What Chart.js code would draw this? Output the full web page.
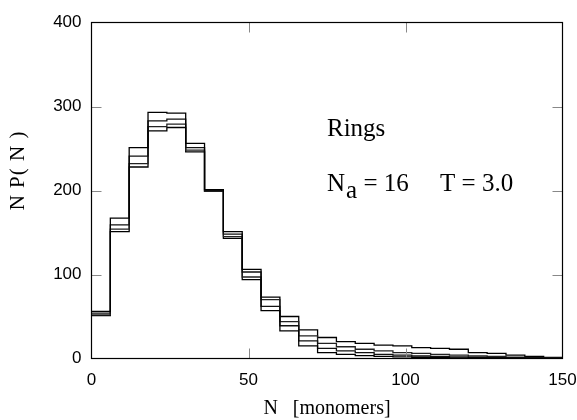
<!DOCTYPE html>
<html><head><meta charset="utf-8">
<script src="https://cdn.jsdelivr.net/npm/chart.js@4.4.1/dist/chart.umd.min.js"></script>
<style>html,body{margin:0;padding:0;background:#fff}</style>
</head><body>
<canvas id="c" width="577" height="420"></canvas>
<script>
// ---- data ----
const binStarts = [0,6,12,18,24,30,36,42,48,54,60,66,72,78,84,90,96,102,108,114,120,126,132,138,144];
const binWidth = 6;
const seriesA = [56,167,251,293,292,256,201,151,106,57,33,15,7,5,3.5,2.5,2,1.2,1,0.7,0.5,0.4,0.3,0.2,0.1];
const seriesB = [54,159,241,283,285,251,200,148,103,62,39,21,12,9,7,5,4,3,2.5,2,1.2,1,0.7,0.5,0.3];
const seriesC = [52,154,232,276,279,248,199,145,97,70,44,27,18,14,11,9,7,6,5,4,3,2.5,1.5,1,0.6];
const seriesD = [51,151,228,271,275,246,199,143,94,73,50,34,25,20,18,16,15,13,12,11,7,6,4,2.5,1.2];
const xTicks = [0,50,100,150];
const yTicks = [0,100,200,300,400];

function toPoints(vals){
  const pts = binStarts.map((x,i)=>({x:x, y:vals[i]}));
  pts.push({x: binStarts[binStarts.length-1] + binWidth, y: vals[vals.length-1]});
  return pts;
}
const colors = ['#000','#111','#222','#000'];
const datasets = [seriesA,seriesB,seriesC,seriesD].map((s,i)=>({
  data: toPoints(s), borderColor: colors[i], borderWidth: 1.3,
  pointRadius: 0, fill: false, stepped: true, tension: 0
}));

const SERIF = '"Liberation Serif", "Times New Roman", serif';
const SANS = '"Liberation Sans", Arial, sans-serif';

const deco = {
  id: 'deco',
  afterDatasetsDraw(chart){
    const {ctx, chartArea:a, scales:{x, y}} = chart;
    ctx.save();
    // inward ticks
    ctx.strokeStyle = '#888'; ctx.lineWidth = 1;
    const L = 10;
    xTicks.forEach(v=>{
      if (v === x.min || v === x.max) return;
      const px = Math.round(x.getPixelForValue(v)) + 0.5;
      ctx.beginPath(); ctx.moveTo(px, a.bottom); ctx.lineTo(px, a.bottom - L); ctx.stroke();
      ctx.beginPath(); ctx.moveTo(px, a.top); ctx.lineTo(px, a.top + L); ctx.stroke();
    });
    yTicks.forEach(v=>{
      if (v === y.min || v === y.max) return;
      const py = Math.round(y.getPixelForValue(v)) + 0.5;
      ctx.beginPath(); ctx.moveTo(a.left, py); ctx.lineTo(a.left + L, py); ctx.stroke();
      ctx.beginPath(); ctx.moveTo(a.right, py); ctx.lineTo(a.right - L, py); ctx.stroke();
    });
    // frame
    ctx.strokeStyle = '#000'; ctx.lineWidth = 1.2;
    ctx.strokeRect(a.left, a.top, a.right - a.left, a.bottom - a.top);
    // annotations
    ctx.fillStyle = '#000';
    ctx.textBaseline = 'alphabetic';
    ctx.textAlign = 'left';
    ctx.font = '25px ' + SERIF;
    ctx.fillText('Rings', x.getPixelForValue(75), y.getPixelForValue(265));
    let bx = x.getPixelForValue(75);
    const by = y.getPixelForValue(200);
    ctx.fillText('N', bx, by);
    bx += ctx.measureText('N').width + 1;
    ctx.fillText('a', bx, by + 7);
    bx += ctx.measureText('a').width;
    ctx.fillText(' = 16', bx, by);
    ctx.fillText('T = 3.0', x.getPixelForValue(111), by);
    // y axis title
    ctx.save();
    ctx.font = '21px ' + SERIF;
    ctx.letterSpacing = '1px';
    ctx.textAlign = 'center';
    ctx.textBaseline = 'middle';
    ctx.translate(18, (a.top + a.bottom)/2 - 20);
    ctx.rotate(-Math.PI/2);
    ctx.fillText('N P( N )', 0, 0);
    ctx.restore();
    ctx.restore();
  }
};

new Chart(document.getElementById('c'), {
  type: 'line',
  data: { datasets },
  options: {
    responsive: false, animation: false, devicePixelRatio: 1,
    layout: { padding: { top: 22.5, right: 14.5, left: 0, bottom: 0 } },
    plugins: { legend: { display: false }, tooltip: { enabled: false } },
    scales: {
      x: {
        type: 'linear', min: 0, max: 150,
        afterBuildTicks(s){ s.ticks = xTicks.map(v=>({value:v})); },
        afterFit(s){ s.height = 61.5; s.paddingLeft = 0; s.paddingRight = 0; },
        grid: { display: false, drawTicks: false },
        border: { display: false },
        ticks: { color: '#000', font: { family: SANS, size: 17 }, padding: 12, maxRotation: 0 },
        title: { display: true, text: 'N   [monomers]', color: '#000',
                 font: { family: SERIF, size: 20, lineHeight: 1 }, padding: { top: 0, bottom: 1 } }
      },
      y: {
        type: 'linear', min: 0, max: 400,
        afterBuildTicks(s){ s.ticks = yTicks.map(v=>({value:v})); },
        afterFit(s){ s.width = 91.5; s.paddingTop = 0; s.paddingBottom = 0; },
        grid: { display: false, drawTicks: false },
        border: { display: false },
        ticks: { color: '#000', font: { family: SANS, size: 17 }, padding: 10 }
      }
    }
  },
  plugins: [deco]
});
</script>
</body></html>
